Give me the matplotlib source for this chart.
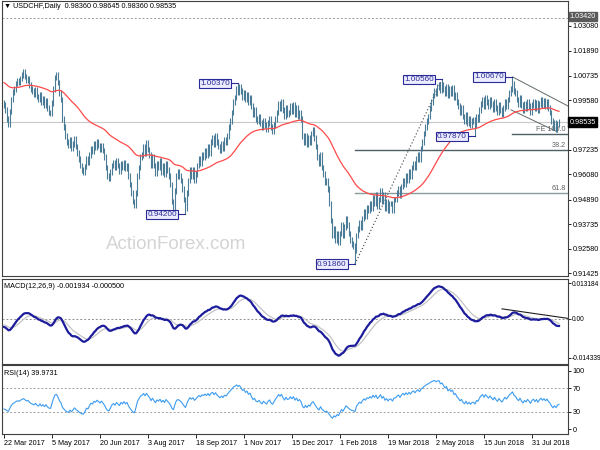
import numpy as np
import matplotlib
matplotlib.use("Agg")
import matplotlib.pyplot as plt
from matplotlib.transforms import offset_copy

plt.rcParams["font.family"] = ["Liberation Sans", "DejaVu Sans"]

title = "\u25bc USDCHF,Daily  0.98360 0.98645 0.98360 0.98535"
macd_title = "MACD(12,26,9) -0.001934 -0.000500"
rsi_title = "RSI(14) 39.9731"

date_labels = ["22 Mar 2017", "5 May 2017", "20 Jun 2017", "3 Aug 2017",
               "18 Sep 2017", "1 Nov 2017", "15 Dec 2017", "1 Feb 2018",
               "19 Mar 2018", "2 May 2018", "15 Jun 2018", "31 Jul 2018"]
date_idx = [0, 32, 64, 96, 128, 160, 192, 224, 256, 288, 320, 352]

# daily closes (bar 0 = 22 Mar 2017)
closes = [
    0.9935, 0.9910, 0.9870, 0.9845, 0.9905, 0.9960, 0.9995, 1.0010, 1.0035, 1.0050,
    1.0040, 1.0060, 1.0075, 1.0090, 1.0070, 1.0050, 1.0060, 1.0030, 1.0010, 1.0000,
    0.9985, 1.0005, 0.9975, 0.9960, 0.9985, 0.9950, 0.9965, 0.9935, 0.9955, 0.9920,
    0.9900, 0.9895, 0.9945, 1.0010, 1.0065, 1.0075, 1.0040, 0.9990, 0.9960, 0.9870,
    0.9830, 0.9790, 0.9760, 0.9745, 0.9770, 0.9730, 0.9750, 0.9775, 0.9740, 0.9710,
    0.9680, 0.9650, 0.9630, 0.9620, 0.9645, 0.9680, 0.9665, 0.9700, 0.9730, 0.9715,
    0.9750, 0.9735, 0.9760, 0.9745, 0.9725, 0.9745, 0.9720, 0.9690, 0.9640, 0.9600,
    0.9590, 0.9620, 0.9650, 0.9665, 0.9640, 0.9670, 0.9650, 0.9625, 0.9660, 0.9640,
    0.9665, 0.9635, 0.9650, 0.9600, 0.9560, 0.9520, 0.9480, 0.9465, 0.9520, 0.9600,
    0.9640, 0.9690, 0.9700, 0.9740, 0.9710, 0.9755, 0.9725, 0.9700, 0.9650, 0.9690,
    0.9650, 0.9615, 0.9660, 0.9640, 0.9670, 0.9620, 0.9650, 0.9610, 0.9660, 0.9630,
    0.9600, 0.9560, 0.9480, 0.9450, 0.9530, 0.9600, 0.9620, 0.9600, 0.9580, 0.9540,
    0.9490, 0.9450, 0.9520, 0.9580, 0.9630, 0.9600, 0.9630, 0.9580, 0.9610, 0.9650,
    0.9680, 0.9660, 0.9700, 0.9690, 0.9720, 0.9700, 0.9740, 0.9710, 0.9760, 0.9780,
    0.9750, 0.9790, 0.9760, 0.9740, 0.9720, 0.9750, 0.9730, 0.9770, 0.9760, 0.9790,
    0.9830, 0.9860, 0.9900, 0.9950, 0.9970, 1.0010, 0.9995, 1.0020, 1.0000, 0.9970,
    0.9990, 0.9960, 0.9985, 0.9950, 0.9970, 0.9930, 0.9890, 0.9910, 0.9870, 0.9860,
    0.9880, 0.9850, 0.9830, 0.9860, 0.9840, 0.9820, 0.9850, 0.9870, 0.9830, 0.9810,
    0.9840, 0.9870, 0.9900, 0.9940, 0.9920, 0.9950, 0.9910, 0.9880, 0.9920, 0.9890,
    0.9900, 0.9930, 0.9905, 0.9935, 0.9890, 0.9920, 0.9880, 0.9900, 0.9870, 0.9790,
    0.9760, 0.9790, 0.9750, 0.9780, 0.9760, 0.9800, 0.9820, 0.9780, 0.9740, 0.9690,
    0.9660, 0.9700, 0.9640, 0.9610, 0.9570, 0.9580, 0.9540, 0.9470, 0.9390, 0.9320,
    0.9350, 0.9300, 0.9330, 0.9290, 0.9330, 0.9370, 0.9320, 0.9360, 0.9400, 0.9370,
    0.9330, 0.9300, 0.9280, 0.9270, 0.9250, 0.9320, 0.9350, 0.9380, 0.9360, 0.9400,
    0.9430, 0.9410, 0.9450, 0.9440, 0.9470, 0.9450, 0.9500, 0.9470, 0.9510, 0.9460,
    0.9490, 0.9530, 0.9480, 0.9510, 0.9450, 0.9480, 0.9440, 0.9470, 0.9470, 0.9440,
    0.9490, 0.9490, 0.9520, 0.9540, 0.9510, 0.9550, 0.9580, 0.9560, 0.9600, 0.9580,
    0.9620, 0.9600, 0.9640, 0.9660, 0.9640, 0.9680, 0.9700, 0.9680, 0.9730, 0.9760,
    0.9800, 0.9830, 0.9860, 0.9880, 0.9920, 0.9950, 0.9980, 1.0000, 0.9990, 1.0020,
    1.0030, 1.0005, 1.0030, 1.0010, 0.9990, 1.0020, 0.9980, 1.0010, 0.9990, 1.0015,
    0.9970, 0.9985, 0.9950, 0.9930, 0.9900, 0.9920, 0.9880, 0.9860, 0.9890, 0.9850,
    0.9870, 0.9840, 0.9860, 0.9865, 0.9840, 0.9880, 0.9870, 0.9910, 0.9940, 0.9960,
    0.9930, 0.9970, 0.9950, 0.9930, 0.9960, 0.9940, 0.9915, 0.9950, 0.9920, 0.9900,
    0.9935, 0.9910, 0.9890, 0.9920, 0.9950, 0.9930, 0.9960, 0.9990, 1.0010, 1.0035,
    1.0000, 0.9990, 0.9960, 0.9940, 0.9970, 0.9935, 0.9910, 0.9940, 0.9920, 0.9950,
    0.9930, 0.9900, 0.9935, 0.9950, 0.9920, 0.9945, 0.9910, 0.9940, 0.9960, 0.9935,
    0.9955, 0.9930, 0.9950, 0.9920, 0.9900, 0.9860, 0.9830, 0.9850, 0.9820, 0.9845,
    0.98535,
]
first_open = 0.9945
bar_wick = 0.0013

# swing points with their labels
swing_idx = [121, 156, 234, 292, 314, 339]
swing_px = [0.9420, 1.0037, 0.9186, 1.0056, 0.9787, 1.0067]
swing_high = [False, True, False, True, False, True]

price_ticks = [1.03080, 1.01890, 1.00735, 0.99580, 0.97235,
               0.96080, 0.94890, 0.93735, 0.92580, 0.91425]
last_price = 0.98535
hline_price = 1.03420

# drawn objects
chan_upper_idx = [339, 376]
chan_upper_px = [1.0067, 0.9930]
chan_lower_idx = [338, 369]
chan_lower_px = [0.9912, 0.9808]
fib_levels = [0.382, 0.618]
fe_ratio = 1.0
macd_line_idx = [332, 376]
macd_line_val = [0.0037, 0.0002]

# indicator states at the first bar
ma_seed = 1.0044
ema_fast_seed, ema_slow_seed, signal_seed = 0.9971, 1.0000, -0.0020
rsi_gain_seed, rsi_loss_seed = 0.0021, 0.0039

macd_ticks = [0.013184, 0.0, -0.014339]
macd_tick_labels = ["0.013184", "0.00", "-0.014339"]
rsi_ticks = [100, 70, 30, 0]


def ema(values, period, seed):
    k = 2.0 / (period + 1)
    out, e = [], seed
    for v in values:
        e = e + k * (v - e)
        out.append(e)
    return np.array(out)


c = np.array(closes)
n = len(c)
x = np.arange(n)
opens = np.concatenate([[first_open], c[:-1]])
highs = np.maximum(opens, c) + bar_wick
lows = np.minimum(opens, c) - bar_wick
for i, p, hi in zip(swing_idx, swing_px, swing_high):
    if hi:
        highs[i] = p
    else:
        lows[i] = p

ma = ema(c, 55, ma_seed)
macd = ema(c, 12, ema_fast_seed) - ema(c, 26, ema_slow_seed)
signal = ema(macd, 9, signal_seed)

ag, al = rsi_gain_seed, rsi_loss_seed
rsi = []
prev = first_open
for v in c:
    d = v - prev
    ag = (ag * 13 + max(d, 0)) / 14
    al = (al * 13 + max(-d, 0)) / 14
    rsi.append(100 - 100 / (1 + ag / al))
    prev = v

fig = plt.figure(figsize=(6, 4.5), dpi=100)
ax = fig.add_axes([2 / 600, 1 - 276 / 450, 566 / 600, 275 / 450])
ax2 = fig.add_axes([2 / 600, 1 - 363.5 / 450, 566 / 600, 85 / 450])
ax3 = fig.add_axes([2 / 600, 1 - 434 / 450, 566 / 600, 69 / 450])

xlim = (-1.33, 376)
fs = 5.2
frame_c = "#404040"
for a in (ax, ax2, ax3):
    a.set_xlim(*xlim)
    a.yaxis.tick_right()
    a.tick_params(axis="y", direction="out", length=2, width=0.6, pad=1.2,
                  labelsize=fs, colors="black")
    a.set_xticks([])
    for s in a.spines.values():
        s.set_color(frame_c)
        s.set_linewidth(0.8)

# ---- price panel
ax.set_ylim(0.91298, 1.04243)
ax.set_yticks(price_ticks)
ax.set_yticklabels(["%.5f" % t for t in price_ticks])

ax.text(0.307, 0.113, "ActionForex.com", transform=ax.transAxes, fontsize=13.5,
        color="#d4d4d4", ha="center", va="center", zorder=0)

ax.axhline(hline_price, color="#9a9a9a", lw=0.7, ls=(0, (2, 2)))
ax.axhline(last_price, color="#c8c8c8", lw=0.8)

lo_i, hi_i = swing_idx[2], swing_idx[3]
lo_p, hi_p = swing_px[2], swing_px[3]
for lev, col in zip(fib_levels, ["#4f5f66", "#8d9a9c"]):
    lp = hi_p - (hi_p - lo_p) * lev
    ax.plot([lo_i, xlim[1]], [lp, lp], color=col, lw=1.0)
    ax.text(xlim[1] - 1.5, lp + 0.0006, "%.1f" % (lev * 100), fontsize=fs,
            color="#606060", ha="right", va="bottom")
ax.plot([lo_i, hi_i], [lo_p, hi_p], color="#404040", lw=0.8, ls=(0, (1, 2)))

fe_px = swing_px[5] - fe_ratio * (swing_px[3] - swing_px[4])
ax.plot([swing_idx[5], xlim[1]], [fe_px, fe_px], color="#4f5f66", lw=1.0)
ax.text(xlim[1] - 1.5, fe_px + 0.0004, "FE 100.0", fontsize=fs, color="#606060",
        ha="right", va="bottom")

ax.plot(chan_upper_idx, chan_upper_px, color="#606a6a", lw=0.7)
ax.plot(chan_lower_idx, chan_lower_px, color="#606a6a", lw=0.7)

ax.vlines(x, lows, highs, color="#4a7b97", lw=0.8, zorder=3)
ax.plot(x, ma, color="#ff4a4a", lw=0.9, zorder=4)

for i, p in zip(swing_idx, swing_px):
    ax.plot([i - 5.5, i], [p, p], color="#2a2a96", lw=0.8, zorder=5)
    ax.text(i - 5.5, p, "%.5f" % p, fontsize=5.9, color="#2a2a96", ha="right",
            va="center", zorder=6,
            bbox=dict(boxstyle="square,pad=0.15", fc="#ececff", ec="#2a2a96", lw=0.8))

ytr = ax.get_yaxis_transform()
ax.text(1.003, last_price, "0.98535", transform=ytr, fontsize=fs, color="white",
        ha="left", va="center", clip_on=False, zorder=10,
        bbox=dict(boxstyle="square,pad=0.2", fc="black", ec="black"))
ax.text(1.003, hline_price, "1.03420",
        transform=offset_copy(ytr, fig=fig, y=1.5, units="points"),
        fontsize=fs, color="white", ha="left", va="center", clip_on=False,
        zorder=10, bbox=dict(boxstyle="square,pad=0.1", fc="#5a5a5a", ec="#5a5a5a"))
ax.text(0.004, 0.993, title, transform=ax.transAxes, fontsize=fs, ha="left",
        va="top", color="black")

# ---- MACD panel
ax2.set_ylim(-0.01636, 0.01484)
ax2.set_yticks(macd_ticks)
ax2.set_yticklabels(macd_tick_labels)
ax2.tick_params(axis="y", labelsize=4.8, pad=1.0)
ax2.axhline(0, color="#909090", lw=0.7, ls=(0, (2, 2)))
ax2.plot(x, signal, color="#c4c4c4", lw=0.9)
ax2.plot(x, macd, color="#1c1c9c", lw=1.6)
ax2.plot(macd_line_idx, macd_line_val, color="#202020", lw=0.8)
ax2.text(0.004, 0.95, macd_title, transform=ax2.transAxes, fontsize=fs,
         ha="left", va="top")

# ---- RSI panel
ax3.set_ylim(-8.6, 110.3)
ax3.set_yticks(rsi_ticks)
ax3.set_yticklabels([str(t) for t in rsi_ticks])
for lv in (70, 30):
    ax3.axhline(lv, color="#a0a0a0", lw=0.7, ls=(0, (2, 2)))
ax3.plot(x, rsi, color="#3c9cf0", lw=0.8)
ax3.text(0.004, 0.93, rsi_title, transform=ax3.transAxes, fontsize=fs,
         ha="left", va="top")

ax3.set_xticks(date_idx)
ax3.set_xticklabels(date_labels, ha="left")
ax3.tick_params(axis="x", direction="out", length=3, width=0.6, pad=1,
                labelsize=fs)

fig.savefig("out.png", dpi=100)
